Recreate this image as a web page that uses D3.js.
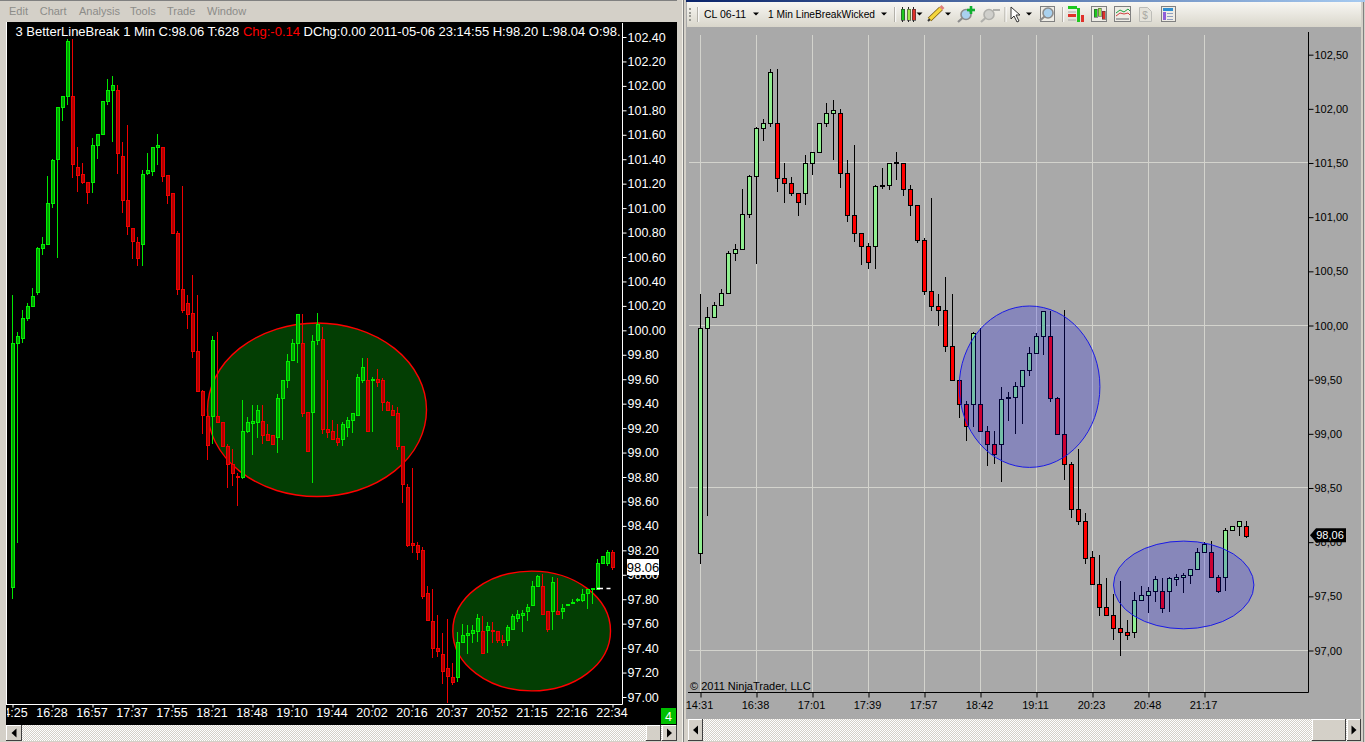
<!DOCTYPE html>
<html><head><meta charset="utf-8">
<script src="https://cdn.jsdelivr.net/npm/d3@7"></script>
<style>
html,body{margin:0;padding:0;background:#d4d0c8;overflow:hidden}
svg{display:block}
text{font-family:"Liberation Sans",Arial,sans-serif}
</style></head><body>
<script>
/* ---------- left chart: BetterLineBreak ---------- */
const leftOpen=[97.90,99.90,99.94,100.10,100.20,100.31,100.67,100.71,101.04,101.40,101.83,101.92,101.92,101.34,101.28,101.21,101.21,101.52,101.61,101.88,101.97,101.97,101.43,101.07,100.84,100.72,100.71,101.29,101.30,101.50,101.50,101.27,101.12,100.80,100.34,100.22,100.14,99.83,99.50,99.30,99.30,99.30,99.25,99.05,98.91,98.81,98.80,99.18,99.24,99.25,99.26,99.15,99.14,99.13,99.45,99.59,99.76,99.90,99.90,99.33,99.33,99.92,99.93,99.19,99.18,99.12,99.11,99.21,99.27,99.31,99.59,99.59,99.59,99.60,99.59,99.41,99.35,99.32,99.05,98.72,98.26,98.24,98.20,97.85,97.62,97.40,97.35,97.24,97.16,97.16,97.45,97.51,97.52,97.54,97.54,97.55,97.55,97.54,97.47,97.47,97.56,97.65,97.67,97.70,97.75,97.91,97.91,97.70,97.70,97.70,97.70,97.75,97.77,97.79,97.79,97.85,97.88,97.88,98.10,98.10,98.19];
const leftHigh=[100.29,99.99,100.17,100.22,100.35,100.68,100.76,101.26,101.40,101.83,101.92,102.38,102.38,101.50,101.37,101.21,101.57,101.61,101.88,102.06,102.08,102.01,101.54,101.68,100.84,100.76,101.31,101.45,101.50,101.61,101.50,101.27,101.12,100.81,101.18,100.29,100.45,100.29,99.51,99.37,99.95,99.99,99.25,99.07,99.03,98.83,99.43,99.29,99.39,99.39,99.39,99.23,99.14,99.48,99.59,99.81,99.93,100.13,100.13,99.33,99.96,100.14,100.03,99.59,99.27,99.23,99.25,99.29,99.32,99.64,99.77,99.77,99.62,99.68,99.61,99.42,99.39,99.37,99.05,98.74,98.87,98.27,98.23,97.91,97.88,97.67,97.52,97.64,97.28,97.53,97.60,97.59,97.59,97.68,97.66,97.61,97.61,97.54,97.51,97.59,97.68,97.71,97.71,97.76,97.95,98.00,98.01,97.70,97.98,97.97,97.76,97.76,97.80,97.81,97.88,97.88,97.89,98.13,98.15,98.20,98.20];
const leftLow=[97.80,98.26,99.90,100.08,100.20,100.29,100.62,100.71,101.00,100.59,101.71,101.84,101.25,101.13,101.20,101.03,101.12,101.40,101.61,101.84,101.54,101.28,100.96,100.78,100.58,100.53,100.53,101.27,101.26,101.35,101.21,101.03,100.80,100.29,100.14,100.01,99.77,99.50,99.15,98.94,99.07,99.24,99.05,98.71,98.73,98.56,98.78,99.16,98.98,99.12,99.07,99.10,99.06,99.00,99.10,99.53,99.76,99.73,99.29,99.01,98.75,99.88,99.15,99.12,99.11,99.05,99.05,99.13,99.16,99.31,99.57,99.18,99.17,99.54,99.34,99.34,99.30,99.02,98.59,98.23,98.18,98.12,97.80,97.62,97.32,97.33,97.11,96.95,97.10,97.12,97.44,97.35,97.44,97.45,97.36,97.36,97.44,97.44,97.42,97.42,97.56,97.61,97.53,97.62,97.75,97.91,97.68,97.53,97.55,97.67,97.64,97.75,97.77,97.78,97.78,97.72,97.76,97.88,98.10,98.07,98.04];
const leftClose=[99.90,99.95,100.10,100.20,100.28,100.67,100.71,101.04,101.39,101.83,101.92,102.37,101.36,101.27,101.21,101.13,101.52,101.61,101.88,101.97,102.01,101.45,101.07,100.85,100.73,100.59,101.28,101.31,101.50,101.52,101.26,101.11,100.80,100.34,100.17,100.13,99.83,99.50,99.31,99.06,99.92,99.25,99.05,98.91,98.83,98.80,99.18,99.25,99.26,99.35,99.14,99.10,99.07,99.45,99.59,99.75,99.90,100.13,99.32,99.01,99.91,100.05,99.19,99.17,99.11,99.09,99.23,99.27,99.32,99.62,99.70,99.18,99.60,99.58,99.41,99.35,99.31,99.05,98.74,98.24,98.24,98.19,97.83,97.63,97.40,97.38,97.21,97.17,97.12,97.45,97.51,97.52,97.55,97.65,97.36,97.58,97.54,97.47,97.45,97.57,97.66,97.68,97.69,97.74,97.91,97.99,97.68,97.56,97.94,97.68,97.73,97.76,97.78,97.80,97.84,97.88,97.89,98.10,98.15,98.19,98.06];
const leftPriceTicks=[97,97.2,97.4,97.6,97.8,98,98.2,98.4,98.6,98.8,99,99.2,99.4,99.6,99.8,100,100.2,100.4,100.6,100.8,101,101.2,101.4,101.6,101.8,102,102.2,102.4];
const leftTimeIndex=[0,8,16,24,32,40,48,56,64,72,80,88,96,104,112,120];
const leftTimeLabels=["14:25","16:28","16:57","17:37","17:55","18:21","18:48","19:10","19:44","20:02","20:16","20:37","20:52","21:15","22:16","22:34"];
// ellipses: [first bar, last bar, upper price, lower price]
const leftEllipses=[[39,82.8,100.06,98.64],[88.06,119.6,98.03,97.05]];
const leftLastPrice=98.06;
const leftDash=[116.9,119.6,97.89];
const leftMenu=["Edit","Chart","Analysis","Tools","Trade","Window"];

/* ---------- right chart: LineBreakWicked ---------- */
const rightOpen=[97.90,99.98,100.08,100.19,100.30,100.67,100.71,101.03,101.38,101.82,101.87,101.87,101.36,101.32,101.22,101.22,101.50,101.60,101.87,101.96,101.96,101.41,101.02,100.85,100.73,100.73,101.29,101.30,101.50,101.50,101.26,101.11,100.79,100.32,100.18,100.14,99.81,99.50,99.28,99.28,99.28,99.03,98.91,98.91,99.33,99.34,99.44,99.59,99.75,99.90,99.90,99.33,99.00,98.72,98.31,98.20,97.86,97.61,97.40,97.33,97.21,97.17,97.17,97.47,97.51,97.55,97.55,97.55,97.66,97.68,97.70,97.75,97.91,97.91,97.68,97.68,98.11,98.15,98.15];
const rightHigh=[100.29,100.17,100.22,100.34,100.69,100.75,101.26,101.39,101.83,101.91,102.37,102.37,101.50,101.37,101.22,101.57,101.60,101.87,102.05,102.08,102.00,101.53,101.67,100.85,100.76,101.30,101.45,101.50,101.60,101.50,101.30,101.11,100.81,101.18,100.29,100.45,100.29,99.50,99.30,99.94,99.98,99.07,99.03,99.43,99.39,99.48,99.59,99.80,99.93,100.13,100.13,99.34,100.14,98.74,98.86,98.27,97.92,97.88,97.67,97.52,97.64,97.28,97.54,97.60,97.59,97.69,97.67,97.68,97.71,97.72,97.75,97.95,98.00,98.01,97.70,98.13,98.15,98.20,98.20];
const rightLow=[97.80,98.24,100.07,100.18,100.29,100.60,100.71,100.99,100.57,101.70,101.83,101.23,101.13,101.20,101.01,101.11,101.39,101.60,101.83,101.53,101.27,100.96,100.77,100.56,100.52,100.52,101.26,101.25,101.34,101.20,101.01,100.76,100.28,100.13,100.00,99.76,99.50,99.15,98.93,99.06,99.03,98.70,98.72,98.56,99.12,99.00,99.09,99.53,99.75,99.73,99.29,99.00,98.57,98.22,98.16,97.80,97.61,97.32,97.33,97.10,96.95,97.10,97.12,97.46,97.35,97.45,97.35,97.36,97.60,97.53,97.61,97.75,97.91,97.68,97.53,97.55,98.11,98.06,98.04];
const rightClose=[99.98,100.08,100.19,100.30,100.67,100.71,101.03,101.38,101.82,101.87,102.34,101.36,101.32,101.22,101.14,101.50,101.60,101.87,101.96,101.99,101.41,101.02,100.85,100.73,100.59,101.29,101.30,101.50,101.51,101.26,101.11,100.79,100.32,100.18,100.14,99.81,99.50,99.28,99.07,99.93,99.03,98.91,98.81,99.32,99.34,99.44,99.59,99.75,99.90,100.13,99.33,99.00,98.72,98.31,98.20,97.85,97.61,97.40,97.33,97.21,97.17,97.14,97.47,97.51,97.55,97.66,97.39,97.67,97.68,97.70,97.75,97.91,97.98,97.68,97.55,98.11,98.15,98.20,98.06];
const rightPriceTicks=[97,97.5,98,98.5,99,99.5,100,100.5,101,101.5,102,102.5];
const rightGridPrices=[97,98.5,100,101.5];
const rightTimeIndex=[0,8,16,24,32,40,48,56,64,72];
const rightTimeLabels=["14:31","16:38","17:01","17:39","17:57","18:42","19:11","20:23","20:48","21:17"];
const rightEllipses=[[36.96,57.06,100.18,98.69],[59,79.06,98.01,97.20]];
const rightLastPrice=98.06;

const leftHeader=[["3 BetterLineBreak 1 Min C:98.06 T:628 ","#fff"],["Chg:-0.14 ","#f00"],["DChg:0.00 2011-05-06 23:14:55 H:98.20 L:98.04 O:98.","#fff"]];

/* ---------- drawing ---------- */
const svg=d3.select("body").append("svg").attr("width",1365).attr("height",742);
const defs=svg.append("defs");
const dith=defs.append("pattern").attr("id","dith").attr("width",2).attr("height",2).attr("patternUnits","userSpaceOnUse");
dith.append("rect").attr("width",2).attr("height",2).attr("fill","#d4d0c8");
dith.append("rect").attr("width",1).attr("height",1).attr("fill","#fff");
dith.append("rect").attr("x",1).attr("y",1).attr("width",1).attr("height",1).attr("fill","#fff");
const tg=defs.append("linearGradient").attr("id","tb").attr("x1",0).attr("x2",0).attr("y1",0).attr("y2",1);
tg.append("stop").attr("offset",0).attr("stop-color","#f8f7f3");
tg.append("stop").attr("offset",1).attr("stop-color","#d9d6cb");
const bg=defs.append("linearGradient").attr("id","tbar");
bg.append("stop").attr("offset",0).attr("stop-color","#0a246a");
bg.append("stop").attr("offset",1).attr("stop-color","#a6caf0");
const cl=defs.append("clipPath").attr("id","clipL");
cl.append("rect").attr("x",7).attr("y",22).attr("width",615).attr("height",703);

const R=(x,y,w,h,f,p=svg)=>p.append("rect").attr("x",x).attr("y",y).attr("width",w).attr("height",h).attr("fill",f).attr("shape-rendering","crispEdges");
const L=(x1,y1,x2,y2,c,p=svg,w=1)=>p.append("line").attr("x1",x1).attr("y1",y1).attr("x2",x2).attr("y2",y2).attr("stroke",c).attr("stroke-width",w);
const T=(x,y,s,size,c,p=svg,a="start")=>p.append("text").attr("x",x).attr("y",y).attr("font-size",size).attr("fill",c).attr("text-anchor",a).text(s);
function button(x,y,w,h,dir,p=svg){
  R(x,y,w,h,"#d4d0c8",p);
  L(x+.5,y,x+.5,y+h,"#fff",p);L(x,y+.5,x+w,y+.5,"#fff",p);
  L(x+w-.5,y,x+w-.5,y+h,"#404040",p);L(x,y+h-.5,x+w,y+h-.5,"#404040",p);
  if(dir){const c=x+w/2,m=y+h/2,d=dir*2.5;
    p.append("path").attr("d",`M${c+d},${m-4.5}L${c-d},${m}L${c+d},${m+4.5}Z`).attr("fill","#000");}
}
function candles(g,x,y,O,H,L_,C,st){
  const n=O.length,idx=d3.range(n);
  const sx=i=>x(i),snap=v=>Math.round(v)+.5;
  g.selectAll("line.w").data(idx).join("line").attr("class","w")
    .attr("x1",sx).attr("x2",sx).attr("y1",i=>Math.round(y(H[i]))).attr("y2",i=>Math.round(y(L_[i])))
    .attr("stroke",i=>st.wick(C[i]>=O[i])).attr("shape-rendering","crispEdges");
  g.selectAll("rect.b").data(idx).join("rect").attr("class","b")
    .attr("x",i=>sx(i)+st.dx).attr("width",st.w)
    .attr("y",i=>snap(y(Math.max(O[i],C[i]))))
    .attr("height",i=>Math.max(1,snap(y(Math.min(O[i],C[i])))-snap(y(Math.max(O[i],C[i])))))
    .attr("fill",i=>st.fill(C[i]>=O[i]))
    .attr("stroke",i=>st.stroke(C[i]>=O[i])).attr("shape-rendering","crispEdges");
}
function ellipses(g,E,x,y,fill,stroke,sw){
  g.selectAll("ellipse").data(E).join("ellipse")
    .attr("cx",e=>(x(e[0])+x(e[1]))/2).attr("cy",e=>(y(e[2])+y(e[3]))/2)
    .attr("rx",e=>(x(e[1])-x(e[0]))/2).attr("ry",e=>(y(e[3])-y(e[2]))/2)
    .attr("fill",fill).attr("stroke",stroke).attr("stroke-width",sw);
}

/* --- left window --- */
R(0,0,682,742,"#d4d0c8");
R(0,0,682,1,"#808080");
const mx=[9,39.7,79,130,167,207];
leftMenu.forEach((m,i)=>T(mx[i],15,m,11,"#8c8c88"));
R(6,22,671,703,"#000");
const lx=d3.scaleLinear().domain([0,120]).range([12.5,612.5]);
const ly=d3.scaleLinear().domain([97,102.4]).range([697,37]);
const lg=svg.append("g").attr("clip-path","url(#clipL)");
ellipses(lg.append("g"),leftEllipses,lx,ly,"#033e03","#f00",1.4);
candles(lg.append("g"),lx,ly,leftOpen,leftHigh,leftLow,leftClose,{
  dx:-1,w:3,wick:u=>u?"#00e800":"#f00000",fill:u=>u?"#00a000":"#b00000",stroke:u=>u?"#00f000":"#f00000"});
const h=T(15.5,36,"",13,"#fff");
leftHeader.forEach(t=>h.append("tspan").attr("fill",t[1]).attr("xml:space","preserve").text(t[0]));
L(622.5,23,622.5,704.5,"#fff");L(6.5,22,6.5,705,"#fff");
const lAxY=svg.append("g").attr("transform","translate(622.5,0)")
  .call(d3.axisRight(ly).tickValues(leftPriceTicks).tickFormat(d3.format(".2f")).tickSize(4).tickPadding(1));
lAxY.select(".domain").remove();
lAxY.selectAll("line").attr("stroke","#fff");
lAxY.selectAll("text").attr("fill","#fff").attr("font-size",12.5).attr("font-family",null);
const lAxX=svg.append("g").attr("transform","translate(0,704.5)").attr("clip-path","url(#clipL2)");
defs.append("clipPath").attr("id","clipL2").append("rect").attr("x",7).attr("y",-10).attr("width",650).attr("height",30);
lAxX.call(d3.axisBottom(lx).tickValues(leftTimeIndex).tickFormat((d,i)=>leftTimeLabels[i]).tickSize(3).tickPadding(1));
lAxX.selectAll(".domain").remove();
lAxX.selectAll("line").attr("stroke","#fff");
lAxX.selectAll("text").attr("fill","#fff").attr("font-size",12.5).attr("font-family",null).attr("dx",-1);
L(6,704.5,622.5,704.5,"#fff");
// dash & last price
L(lx(leftDash[0]),Math.round(ly(leftDash[2]))+.5,lx(leftDash[1]),Math.round(ly(leftDash[2]))+.5,"#fff",svg,1.4).attr("stroke-dasharray","6,3.5");
const lyp=ly(leftLastPrice);
R(627,lyp-8.5,32,16,"#fff");
T(643,lyp+4.5,d3.format(".2f")(leftLastPrice),13,"#000",svg,"middle");
R(661,708,15,16,"#00c000");
T(668.5,721,"4",12.5,"#fff",svg,"middle");
// left scrollbar
R(6,725,671,16,"url(#dith)");
button(6,725,16,16,1);button(646,725,15,16,0);button(662,725,15,16,-1);

/* --- divider --- */
R(677,0,5,742,"#d4d0c8");
L(683.5,0,683.5,742,"#808080");
R(682,0,1,742,"#f4f2ea");R(684,0,3,742,"#d4d0c8");

/* --- right window --- */
R(686,2,675,717,"#a9a9a9");
R(1361,0,4,742,"#d4d0c8");L(1363.5,0,1363.5,742,"#808080");
R(686,0,679,2,"url(#tbar)");
R(687,2,674,25,"url(#tb)");
const rx=d3.scaleLinear().domain([0,78]).range([700.5,1246.5]);
const ry=d3.scaleLinear().domain([97,102.5]).range([650.5,54.67]);
const gg=svg.append("g").attr("shape-rendering","crispEdges");
gg.selectAll("line.v").data(rightTimeIndex).join("line").attr("class","v")
  .attr("x1",d=>rx(d)).attr("x2",d=>rx(d)).attr("y1",35).attr("y2",692).attr("stroke","#d3d3cd");
gg.selectAll("line.h").data(rightGridPrices).join("line").attr("class","h")
  .attr("x1",689).attr("x2",1308).attr("y1",d=>Math.round(ry(d))-.5).attr("y2",d=>Math.round(ry(d))-.5).attr("stroke","#d3d3cd");
candles(svg.append("g"),rx,ry,rightOpen,rightHigh,rightLow,rightClose,{
  dx:-2,w:4,wick:()=>"#000",fill:u=>u?"#90ee90":"#ff0000",stroke:()=>"#000"});
ellipses(svg.append("g"),rightEllipses,rx,ry,"rgba(0,0,255,0.2)","#1a1ae6",1);
T(690,690,"© 2011 NinjaTrader, LLC",11,"#000");
const rAxY=svg.append("g").attr("transform","translate(1308.5,0)")
  .call(d3.axisRight(ry).tickValues(rightPriceTicks).tickFormat(d=>d3.format(".2f")(d).replace(".",",")).tickSize(5).tickPadding(1));
rAxY.select(".domain").remove();
rAxY.selectAll("line").attr("stroke","#000");
rAxY.selectAll("text").attr("fill","#000").attr("font-size",11).attr("font-family",null);
L(1308.5,32,1308.5,692.5,"#000");
const rAxX=svg.append("g").attr("transform","translate(0,692.5)")
  .call(d3.axisBottom(rx).tickValues(rightTimeIndex).tickFormat((d,i)=>rightTimeLabels[i]).tickSize(5).tickPadding(4));
rAxX.select(".domain").remove();
rAxX.selectAll("line").attr("stroke","#000");
rAxX.selectAll("text").attr("fill","#000").attr("font-size",11).attr("font-family",null).attr("dx",-1.5);
L(688,692.5,1308.5,692.5,"#000");
// last price tag
const ryp=ry(rightLastPrice);
svg.append("path").attr("d",`M1310,${ryp-.5}l6,-7h30v14h-30z`).attr("fill","#000");
T(1330,ryp+3.5,d3.format(".2f")(rightLastPrice).replace(".",","),11,"#fff",svg,"middle");
// right scrollbar
R(686,719,675,22,"#d4d0c8");
R(702,719,610,22,"url(#dith)");R(1312,719,35,22,"url(#dith)");
button(688,719,15,22,1);button(1312,719,34,22,0);button(1347,719,14,22,-1);

/* --- toolbar --- */
const tb=svg.append("g");
d3.range(4).forEach(i=>R(689,8+i*3.5,2,2,"#9a9a94",tb));
[697.7,894.7,1005,1062.7].forEach(x=>{L(x,7,x,22,"#a8a69e",tb);L(x+1,7,x+1,22,"#fff",tb);});
T(704,18,"CL 06-11",10.5,"#000",tb);
T(768,18,"1 Min LineBreakWicked",10.5,"#000",tb).attr("textLength",107).attr("lengthAdjust","spacingAndGlyphs");
const tri=x=>tb.append("path").attr("d",`M${x-3},12.5h6l-3,3z`).attr("fill","#000");
[756,884,919.5,948,1029].forEach(tri);
// candlestick icon
[[901,"#1ec81e"],[907,"#9be84a"],[912,"#e0302a"]].forEach(c=>{
  L(c[0]+1.5,7,c[0]+1.5,22,"#222",tb);
  R(c[0],9,3.5,11,c[1],tb).attr("stroke","#333").attr("stroke-width",.6);});
// pencil
L(929.5,19.5,941,8.5,"#7a5a10",tb,5);L(929.5,19.5,941,8.5,"#f4d63c",tb,3.5);
L(941,8.5,943,6.5,"#e0807a",tb,4);L(928,21,930,19,"#333",tb,2);
// magnifiers
const mag=(x,y,c,h)=>{tb.append("circle").attr("cx",x).attr("cy",y).attr("r",5).attr("fill",c).attr("stroke",h).attr("stroke-width",1.6);
  L(x-3.5,y+3.5,x-8,y+7.5,h,tb,2.2);};
mag(966,14.5,"#a9d1ef","#8c8c8c");
L(967,10,975,10,"#10b030",tb,2.6);L(971,6,971,14,"#10b030",tb,2.6);
mag(989,14.5,"#cfcfcb","#b0b0ac");L(993,10,1000,10,"#b0b0ac",tb,2);
// cursor
tb.append("path").attr("d","M1011,7l0,12l3,-3l3,6l2,-1l-3,-6l4,0z").attr("fill","#fff").attr("stroke","#333");
// boxed icons
const box=(x,w)=>tb.append("rect").attr("x",x+.5).attr("y",6.5).attr("width",w).attr("height",15).attr("fill","#eeece5").attr("stroke","#808080");
box(1040,14);mag(1048,13,"#a9d1ef","#8c8c8c");
R(1068,6,9,3,"#1ec81e",tb);R(1068,14,8,3,"#e0302a",tb);R(1077,8,3,14,"#1ec81e",tb);R(1081,15,3,7,"#e0302a",tb);
L(1068,12,1076,12,"#aaa",tb);L(1068,20,1076,20,"#aaa",tb);
box(1091,15);
[[1094,"#1ec81e",9,8],[1098,"#9be84a",8,8],[1102,"#e0302a",11,8]].forEach(c=>R(c[0],c[2],3,c[3],c[1],tb).attr("stroke","#333").attr("stroke-width",.5));
box(1114,16);
tb.append("path").attr("d","M1116,13l4,-3l4,2l4,-3l2,2").attr("fill","none").attr("stroke","#20a040");
tb.append("path").attr("d","M1116,16l4,-3l4,1l4,-1l2,2").attr("fill","none").attr("stroke","#d04040");
R(1116,18,13,2,"#aaa",tb);
tb.append("path").attr("d","M1139.5,7.5h8l4,4v10h-12z").attr("fill","#e4e2da").attr("stroke","#bdbdb8");
T(1145,19,"$",10,"#a8a8a2",tb,"middle");
box(1161,14);R(1163,8,10,3,"#2e8ed0",tb);R(1163,12,3,8,"#9060d8",tb);
[13,16,19].forEach(y=>L(1167,y+.5,1173,y+.5,"#90a0c0",tb));
</script>
</body></html>
